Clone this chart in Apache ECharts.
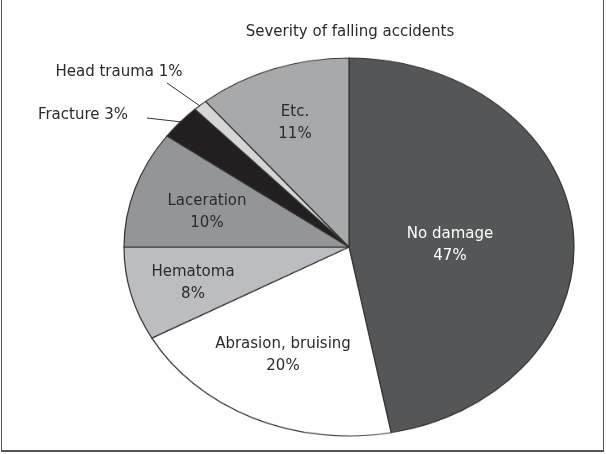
<!DOCTYPE html>
<html><head><meta charset="utf-8">
<script src="https://cdn.jsdelivr.net/npm/echarts@6/dist/echarts.min.js"></script>
<style>
html,body{margin:0;padding:0;background:#fff;}
#wrap{position:relative;width:606px;height:454px;overflow:hidden;background:#fff;}
#pie{position:absolute;left:0;top:0;width:606px;height:520px;transform-origin:349px 247px;transform:scaleY(0.84);}
#txt{position:absolute;left:0;top:0;width:606px;height:454px;}
#frame{position:absolute;left:1px;top:0;width:601px;height:450px;border:1px solid #555;border-top:none;border-bottom-width:2px;pointer-events:none;}
</style></head>
<body><div id="wrap"><div id="pie"></div><div id="txt"></div><div id="frame"></div></div>
<script>
const title = 'Severity of falling accidents';
const categories = ['No damage','Abrasion, bruising','Hematoma','Laceration','Fracture','Head trauma','Etc.'];
const values = [47, 20, 8, 10, 3, 1, 11];
const colors = ['#555658','#ffffff','#bcbdc0','#939598','#231f20','#d6d6d6','#a8a9ab'];
// label layout (text anchor centers) and text styles
const labelPos = [[450,245],[283,355],[193,283],[207,212],[83,115],[119,72],[295,123]];
const labelInline = [false,false,false,false,true,true,false];
const labelColor = ['#ffffff','#2a2a2a','#2a2a2a','#2a2a2a','#2a2a2a','#2a2a2a','#2a2a2a'];
const leaders = {4:[[147,118],[182,122]], 5:[[167,83],[200,106]]};

const FONT = 'DejaVu Sans';
const pie = echarts.init(document.getElementById('pie'), null, {renderer:'canvas'});
pie.setOption({
  animation:false,
  series:[{
    type:'pie', center:[349,247], radius:[0,225], startAngle:90, clockwise:true,
    label:{show:false}, labelLine:{show:false}, silent:true,
    itemStyle:{borderColor:'#333333', borderWidth:1.2},
    data: categories.map((c,i)=>({name:c, value:values[i], itemStyle:{color:colors[i]}}))
  }]
});

const txt = echarts.init(document.getElementById('txt'), null, {renderer:'canvas'});
const g = [];
g.push({type:'text', x:350, y:32, silent:true,
  style:{text:title, fill:'#2a2a2a', font:'15px "'+FONT+'"', align:'center', verticalAlign:'middle'}});
categories.forEach((c,i)=>{
  const t = labelInline[i] ? (c+' '+values[i]+'%') : (c+'\n'+values[i]+'%');
  g.push({type:'text', x:labelPos[i][0], y:labelPos[i][1], silent:true,
    style:{text:t, fill:labelColor[i], font:'15px "'+FONT+'"', align:'center', verticalAlign:'middle', lineHeight:22}});
  if (leaders[i]) {
    g.push({type:'line', silent:true, shape:{x1:leaders[i][0][0],y1:leaders[i][0][1],x2:leaders[i][1][0],y2:leaders[i][1][1]}, style:{stroke:'#333', lineWidth:1}});
  }
});
txt.setOption({
  animation:false,
  backgroundColor:'transparent',
  graphic:g
});
</script></body></html>
